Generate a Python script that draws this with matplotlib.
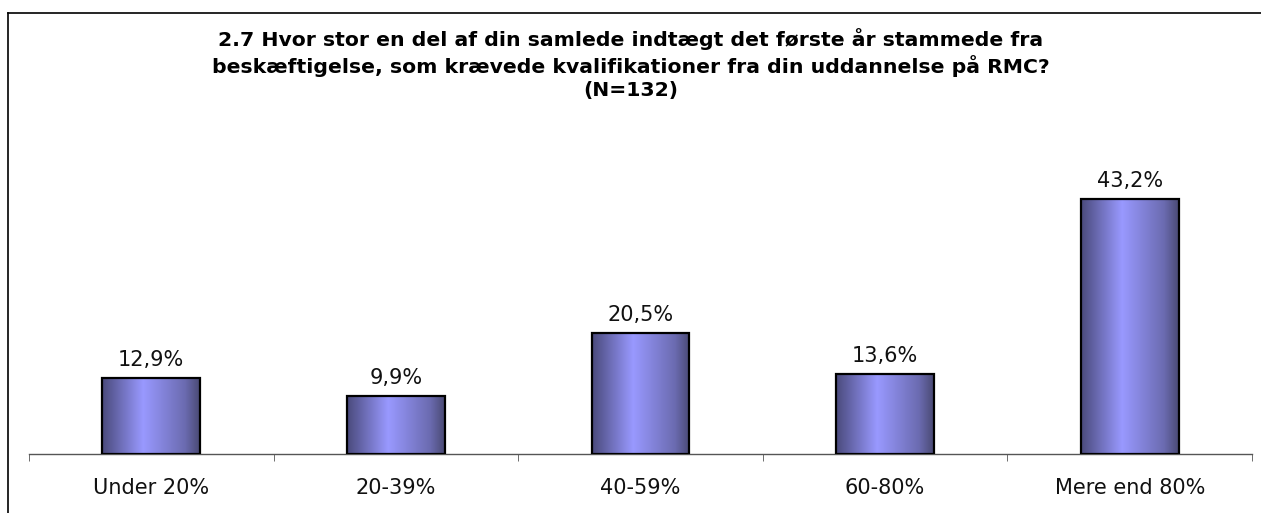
import matplotlib.pyplot as plt
from matplotlib.colors import LinearSegmentedColormap
from matplotlib.lines import Line2D
import numpy as np

categories = ['Under 20%', '20-39%', '40-59%', '60-80%', 'Mere end 80%']
values = [12.9, 9.9, 20.5, 13.6, 43.2]
value_labels = ['12,9%', '9,9%', '20,5%', '13,6%', '43,2%']
title = ('2.7 Hvor stor en del af din samlede indtægt det første år stammede fra\n'
         'beskæftigelse, som krævede kvalifikationer fra din uddannelse på RMC?\n'
         '(N=132)')


def main() -> int:
    plt.rcParams['font.family'] = ['DejaVu Sans']
    W, H = 1261, 513
    fig = plt.figure(figsize=(W / 100, H / 100), dpi=100)
    ax = fig.add_axes([29 / W, (H - 454) / H, (1252 - 29) / W, (454 - 159) / H])

    cmap = LinearSegmentedColormap.from_list(
        'grad', [(0.0, '#4a4a7c'), (0.42, '#9999ff'), (0.85, '#6b6bb0'), (1.0, '#4a4a74')])
    grad = np.linspace(0, 1, 256).reshape(1, -1)

    x = np.arange(len(categories))
    width = 0.4
    bars = ax.bar(x, values, width, color='none', edgecolor='black', linewidth=1.6, zorder=3)
    for b in bars:
        x0, y0 = b.get_x(), b.get_y()
        im = ax.imshow(grad, cmap=cmap, aspect='auto', zorder=2,
                       extent=[x0, x0 + b.get_width(), y0, y0 + b.get_height()])
        im.set_clip_path(b)

    for xi, v, lab in zip(x, values, value_labels):
        ax.annotate(lab, (xi, v), xytext=(0, 8.5), textcoords='offset points',
                    ha='center', va='baseline', fontsize=15, color='#111111')

    ax.set_xlim(-0.5, len(categories) - 0.5)
    ax.set_ylim(0, 50)
    for s in ['top', 'right', 'left']:
        ax.spines[s].set_visible(False)
    ax.spines['bottom'].set_color('#555555')
    ax.spines['bottom'].set_linewidth(1.0)
    ax.set_yticks([])
    ax.set_xticks(x)
    ax.set_xticklabels(categories, fontsize=15, color='#111111')
    ax.tick_params(axis='x', which='major', length=0, pad=17)
    ax.set_xticks(np.arange(-0.5, len(categories)), minor=True)
    ax.tick_params(axis='x', which='minor', length=5, color='#555555', direction='out')

    fig.text(0.5, (H - 64) / H, title, ha='center', va='center', fontsize=14.7,
             fontweight='bold', linespacing=1.27)

    # chart frame (only left and top edges are visible in the crop)
    fig.add_artist(Line2D([8 / W, 8 / W], [0, (H - 13) / H], color='black', linewidth=1.2))
    fig.add_artist(Line2D([8 / W, 1], [(H - 13) / H, (H - 13) / H], color='black', linewidth=1.2))

    fig.savefig('out.png', dpi=100)
    return 0


if __name__ == '__main__':
    main()
